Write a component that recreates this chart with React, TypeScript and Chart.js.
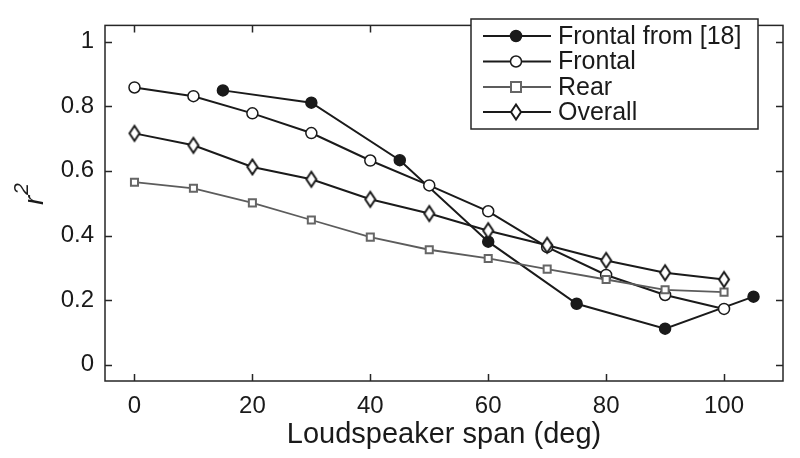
import React, { useEffect, useRef } from "react";
import { Chart, registerables } from "chart.js";

Chart.register(...registerables);

// ---- data ----
const xFrontal18 = [15, 30, 45, 60, 75, 90, 105];
const yFrontal18 = [0.849, 0.811, 0.633, 0.381, 0.189, 0.112, 0.211];
const xSpan = [0, 10, 20, 30, 40, 50, 60, 70, 80, 90, 100];
const yFrontal = [0.858, 0.831, 0.778, 0.717, 0.632, 0.555, 0.475, 0.364, 0.278, 0.216, 0.173];
const yRear = [0.565, 0.546, 0.501, 0.448, 0.395, 0.356, 0.329, 0.296, 0.264, 0.232, 0.225];
const yOverall = [0.716, 0.679, 0.612, 0.574, 0.512, 0.468, 0.415, 0.37, 0.323, 0.285, 0.264];
const xTicks = [0, 20, 40, 60, 80, 100];
const yTicks = [0, 0.2, 0.4, 0.6, 0.8, 1];
const seriesNames = ["Frontal from [18]", "Frontal", "Rear", "Overall"];
const xTitle = "Loudspeaker span (deg)";

const FONT = "'Liberation Sans', Arial, Helvetica, sans-serif";
const INK = "#1a1a1a";
const GRAY = "#5c5c5c";

function makeDiamond(): HTMLCanvasElement {
  const c = document.createElement("canvas");
  c.width = 16;
  c.height = 20;
  const g = c.getContext("2d")!;
  g.beginPath();
  g.moveTo(8, 2.5);
  g.lineTo(13, 10);
  g.lineTo(8, 17.5);
  g.lineTo(3, 10);
  g.closePath();
  g.fillStyle = "#fff";
  g.fill();
  g.lineWidth = 2;
  g.strokeStyle = INK;
  g.stroke();
  return c;
}

export default function App() {
  const ref = useRef<HTMLCanvasElement | null>(null);

  useEffect(() => {
    document.body.style.margin = "0";
    const canvas = ref.current!;
    const diamond = makeDiamond();

    const styles = [
      { color: INK, fill: INK },
      { color: INK, fill: "#fff" },
      { color: GRAY, fill: "#fff" },
      { color: INK, fill: "#fff" },
    ];

    const frame = {
      id: "frame",
      afterDraw(chart: any) {
        const { ctx, chartArea: a, scales } = chart;
        const xs = scales.x;
        const ys = scales.y;
        ctx.save();
        ctx.strokeStyle = "#262626";
        ctx.lineWidth = 1.5;
        ctx.strokeRect(a.left, a.top, a.right - a.left, a.bottom - a.top);
        const tl = 7;
        ctx.beginPath();
        xTicks.forEach((v) => {
          const px = Math.round(xs.getPixelForValue(v)) + 0.5;
          ctx.moveTo(px, a.bottom);
          ctx.lineTo(px, a.bottom - tl);
          ctx.moveTo(px, a.top);
          ctx.lineTo(px, a.top + tl);
        });
        yTicks.forEach((v) => {
          const py = Math.round(ys.getPixelForValue(v)) + 0.5;
          ctx.moveTo(a.left, py);
          ctx.lineTo(a.left + tl, py);
          ctx.moveTo(a.right, py);
          ctx.lineTo(a.right - tl, py);
        });
        ctx.stroke();

        // x title
        ctx.fillStyle = INK;
        ctx.font = `29px ${FONT}`;
        ctx.textAlign = "center";
        ctx.textBaseline = "alphabetic";
        ctx.fillText(xTitle, (a.left + a.right) / 2, 443);

        // y title r^2
        ctx.save();
        ctx.translate(43, 194);
        ctx.rotate(-Math.PI / 2);
        ctx.textAlign = "left";
        ctx.font = `italic 28px ${FONT}`;
        const wr = ctx.measureText("r").width;
        ctx.font = `italic 21px ${FONT}`;
        const w2 = ctx.measureText("2").width;
        const start = -(wr + w2 + 1) / 2;
        ctx.font = `italic 28px ${FONT}`;
        ctx.fillText("r", start, 0);
        ctx.font = `italic 21px ${FONT}`;
        ctx.fillText("2", start + wr + 1, -15);
        ctx.restore();

        // legend
        const lx = 471, ly = 19, lw = 287, lh = 110;
        ctx.fillStyle = "#fff";
        ctx.fillRect(lx, ly, lw, lh);
        ctx.lineWidth = 1.5;
        ctx.strokeStyle = "#262626";
        ctx.strokeRect(lx, ly, lw, lh);
        const rows = [36, 61.5, 87, 112];
        seriesNames.forEach((name, i) => {
          const s = styles[i];
          const cy = rows[i];
          ctx.beginPath();
          ctx.strokeStyle = s.color;
          ctx.lineWidth = i === 2 ? 1.8 : 2;
          ctx.moveTo(483, cy);
          ctx.lineTo(551, cy);
          ctx.stroke();
          const mx = 516;
          if (i === 3) {
            ctx.drawImage(diamond, mx - diamond.width / 2, cy - diamond.height / 2);
          } else if (i === 2) {
            ctx.fillStyle = "#fff";
            ctx.fillRect(mx - 5, cy - 5, 10, 10);
            ctx.lineWidth = 2;
            ctx.strokeStyle = "#666";
            ctx.strokeRect(mx - 5, cy - 5, 10, 10);
          } else {
            ctx.beginPath();
            ctx.arc(mx, cy, 5.5, 0, Math.PI * 2);
            ctx.fillStyle = s.fill;
            ctx.fill();
            ctx.lineWidth = 1.5;
            ctx.strokeStyle = INK;
            ctx.stroke();
          }
          ctx.fillStyle = INK;
          ctx.font = `25px ${FONT}`;
          ctx.textAlign = "left";
          ctx.textBaseline = "middle";
          ctx.fillText(name, 558, cy + 1);
        });
        ctx.restore();
      },
    };

    const mk = (xsArr: number[], ysArr: number[]) => xsArr.map((x, i) => ({ x, y: ysArr[i] }));

    const chart = new Chart(canvas, {
      type: "line",
      data: {
        datasets: [
          {
            label: seriesNames[0],
            data: mk(xFrontal18, yFrontal18),
            borderColor: INK,
            borderWidth: 2,
            pointStyle: "circle",
            pointRadius: 5.5,
            pointBackgroundColor: INK,
            pointBorderColor: INK,
            pointBorderWidth: 1.5,
            order: 4,
          },
          {
            label: seriesNames[1],
            data: mk(xSpan, yFrontal),
            borderColor: INK,
            borderWidth: 2,
            pointStyle: "circle",
            pointRadius: 5.5,
            pointBackgroundColor: "#fff",
            pointBorderColor: INK,
            pointBorderWidth: 1.5,
            order: 3,
          },
          {
            label: seriesNames[2],
            data: mk(xSpan, yRear),
            borderColor: GRAY,
            borderWidth: 1.8,
            pointStyle: "rect",
            pointRadius: 5,
            pointBackgroundColor: "#fff",
            pointBorderColor: "#666",
            pointBorderWidth: 2,
            order: 2,
          },
          {
            label: seriesNames[3],
            data: mk(xSpan, yOverall),
            borderColor: INK,
            borderWidth: 2,
            pointStyle: diamond as any,
            pointRadius: 7,
            pointBackgroundColor: "#fff",
            pointBorderColor: INK,
            order: 1,
          },
        ] as any,
      },
      options: {
        responsive: false,
        animation: false,
        events: [],
        clip: false as any,
        layout: { padding: { top: 12, right: 17, left: 0, bottom: 0 } },
        plugins: { legend: { display: false }, tooltip: { enabled: false } },
        scales: {
          x: {
            type: "linear",
            min: -5,
            max: 110,
            grid: { display: false, drawTicks: false },
            border: { display: false },
            afterBuildTicks: (s: any) => {
              s.ticks = xTicks.map((v) => ({ value: v }));
            },
            afterFit: (s: any) => {
              s.height = 77;
            },
            ticks: {
              font: { family: FONT, size: 24 },
              color: INK,
              padding: 11,
              maxRotation: 0,
              autoSkip: false,
              callback: (v: any) => String(v),
            },
          },
          y: {
            type: "linear",
            min: -0.05,
            max: 1.05,
            grid: { display: false, drawTicks: false },
            border: { display: false },
            afterBuildTicks: (s: any) => {
              s.ticks = yTicks.map((v) => ({ value: v }));
            },
            afterFit: (s: any) => {
              s.width = 105;
            },
            ticks: {
              font: { family: FONT, size: 24 },
              color: INK,
              padding: 11,
              autoSkip: false,
              callback: (v: any) => String(Math.round(v * 10) / 10),
            },
          },
        },
      },
      plugins: [frame],
    });

    return () => chart.destroy();
  }, []);

  return (
    <div style={{ width: 800, height: 458, position: "relative" }}>
      <canvas ref={ref} width={800} height={458} style={{ display: "block", width: 800, height: 458 }} />
    </div>
  );
}
